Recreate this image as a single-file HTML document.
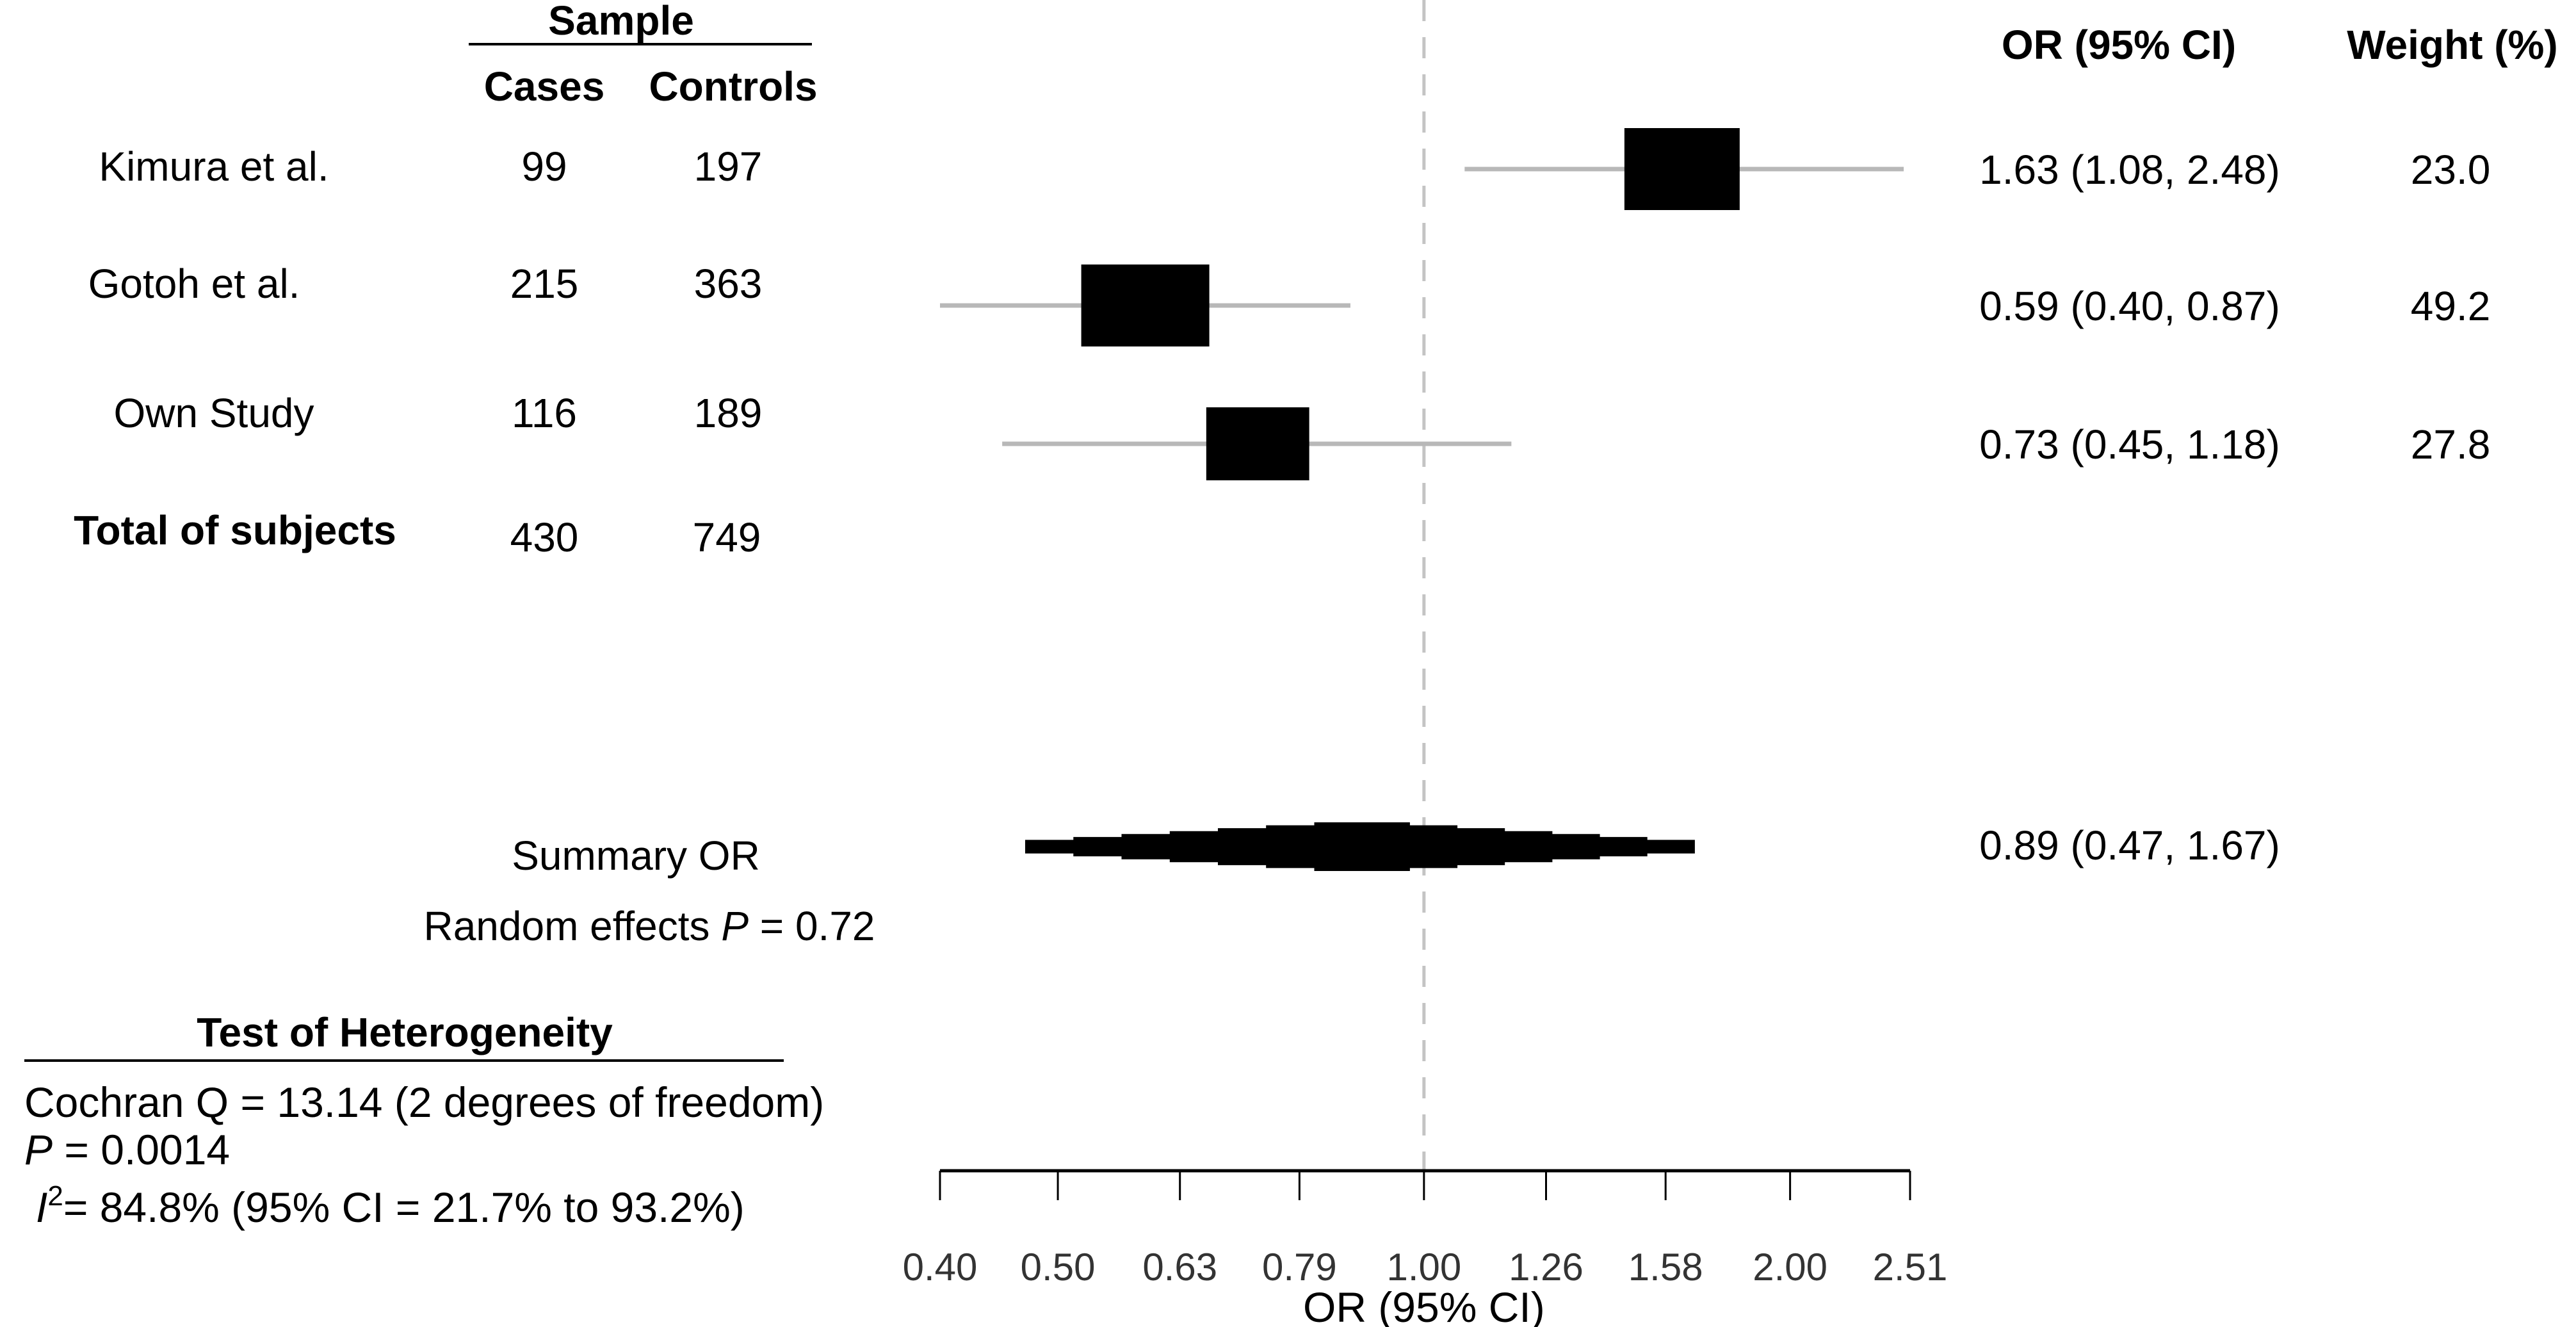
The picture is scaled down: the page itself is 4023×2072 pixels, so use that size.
<!DOCTYPE html>
<html><head><meta charset="utf-8"><style>
html,body{margin:0;padding:0;background:#fff;}
svg{display:block;font-family:"Liberation Sans",Arial,sans-serif;}
</style></head><body>
<svg id="chart" width="4023" height="2072" viewBox="0 0 4023 2072" xmlns="http://www.w3.org/2000/svg">
<g font-size="64" text-anchor="middle">
<text x="970" y="54" font-weight="bold">Sample</text>
<line x1="732" y1="69" x2="1268" y2="69" stroke="#000" stroke-width="4"/>
<text x="850" y="157" font-weight="bold">Cases</text>
<text x="1145" y="157" font-weight="bold">Controls</text>
<text x="3309" y="92" font-weight="bold">OR (95% CI)</text>
<text x="3830" y="92" font-weight="bold">Weight (%)</text>
<text x="367" y="850" font-weight="bold">Total of subjects</text>
<text x="850" y="861">430</text>
<text x="1135" y="861">749</text>
<text x="993" y="1358">Summary OR</text>
<text x="1014" y="1468">Random effects <tspan font-style="italic">P</tspan> = 0.72</text>
<text x="632" y="1634" font-weight="bold">Test of Heterogeneity</text>
<line x1="38" y1="1656" x2="1224" y2="1656" stroke="#000" stroke-width="4"/>
</g>
<g font-size="66">
<text x="38" y="1744">Cochran Q = 13.14 (2 degrees of freedom)</text>
<text x="38" y="1818"><tspan font-style="italic">P</tspan> = 0.0014</text>
<text x="56" y="1908"><tspan font-style="italic">I</tspan><tspan dy="-26" font-size="44">2</tspan><tspan dy="26">= 84.8% (95% CI = 21.7% to 93.2%)</tspan></text>
</g>
<g id="plot"></g>
</svg>
<script>
const studies = ["Kimura et al.", "Gotoh et al.", "Own Study"];
const cases = [99, 215, 116];
const controls = [197, 363, 189];
const orValues = [1.63, 0.59, 0.73];
const ciLow = [1.08, 0.40, 0.45];
const ciHigh = [2.48, 0.87, 1.18];
const weights = [23.0, 49.2, 27.8];
const summaryOR = [0.89, 0.47, 1.67];
const tickLabels = ["0.40","0.50","0.63","0.79","1.00","1.26","1.58","2.00","2.51"];

const NS = "http://www.w3.org/2000/svg";
const g = document.getElementById("plot");
const X0 = 1468, X1 = 2983, VMIN = 0.4, VMAX = 2.51;
function xs(v){ return X0 + (Math.log(v)-Math.log(VMIN))/(Math.log(VMAX)-Math.log(VMIN))*(X1-X0); }
const rowY = [264, 477, 693];
const labelY = [282, 465, 667];
const labelX = [334, 303, 334];
const FS = 64;
function el(tag, attrs){ const e=document.createElementNS(NS,tag); for(const k in attrs) e.setAttribute(k,attrs[k]); g.appendChild(e); return e; }

const ref = el("line",{x1:xs(1),y1:0,x2:xs(1),y2:1828,stroke:"#c4c4c4","stroke-width":5,"stroke-dasharray":"33 25"});



studies.forEach((s,i)=>{
  const y = rowY[i];
  const ci = el("line",{x1:xs(ciLow[i]),y1:y,x2:xs(ciHigh[i]),y2:y,stroke:"#b8b8b8","stroke-width":7});
  
  
  const w = weights[i] < 30 ? 180 - (weights[i]-23)*4 : 200;
  const h = weights[i] < 25 ? 128 : (weights[i] > 40 ? 128 : 114);
  const b = el("rect",{x:xs(orValues[i])-w/2,y:y-h/2,width:w,height:h,fill:"#000"});
  
  
  const t = el("text",{x:labelX[i],y:labelY[i],"font-size":FS,"text-anchor":"middle"}); t.textContent=s;
  
  
  const c1 = el("text",{x:850,y:labelY[i],"font-size":FS,"text-anchor":"middle"}); c1.textContent=cases[i];
  
  
  const c2 = el("text",{x:1137,y:labelY[i],"font-size":FS,"text-anchor":"middle"}); c2.textContent=controls[i];
  
  
  const o = el("text",{x:3326,y:y+23,"font-size":FS,"text-anchor":"middle"});
  o.textContent = orValues[i].toFixed(2)+" ("+ciLow[i].toFixed(2)+", "+ciHigh[i].toFixed(2)+")";
  
  
  const wt = el("text",{x:3827,y:y+23,"font-size":FS,"text-anchor":"middle"}); wt.textContent=weights[i].toFixed(1);
  
  
});

// stepped summary diamond
const dy = 1322, xl = xs(summaryOR[1]), xr = xs(summaryOR[2]), xm = xs(summaryOR[0]);
const steps = 7, pts = [];
for (let k=0;k<steps;k++){ const f=k/steps, hh=6+ (38-6)*((k+1)/steps); pts.push([xl+(xm-xl)*f, dy-hh]); pts.push([xl+(xm-xl)*(k+1)/steps, dy-hh]); }
for (let k=steps-1;k>=0;k--){ const hh=6+(38-6)*((k+1)/steps); pts.push([xr-(xr-xm)*(k+1)/steps, dy-hh]); pts.push([xr-(xr-xm)*k/steps, dy-hh]); }
const lower = pts.slice().reverse().map(p=>[p[0], 2*dy-p[1]]);
const d = el("polygon",{points:pts.concat(lower).map(p=>p[0].toFixed(1)+","+p[1].toFixed(1)).join(" "),fill:"#000"});


const st = el("text",{x:3326,y:dy+20,"font-size":FS,"text-anchor":"middle"});
st.textContent = summaryOR[0].toFixed(2)+" ("+summaryOR[1].toFixed(2)+", "+summaryOR[2].toFixed(2)+")";



const ax = el("line",{x1:X0,y1:1828,x2:X1,y2:1828,stroke:"#000","stroke-width":5});


tickLabels.forEach(lbl=>{
  const x = xs(parseFloat(lbl));
  const tk = el("line",{x1:x,y1:1828,x2:x,y2:1874,stroke:"#000","stroke-width":3});
  
  
  const tl = el("text",{x:x,y:1999,"font-size":60,"text-anchor":"middle",fill:"#333"}); tl.textContent=lbl;
  
  
});
const at = el("text",{x:xs(1),y:2064,"font-size":66,"text-anchor":"middle"}); at.textContent="OR (95% CI)";


</script>
</body></html>
